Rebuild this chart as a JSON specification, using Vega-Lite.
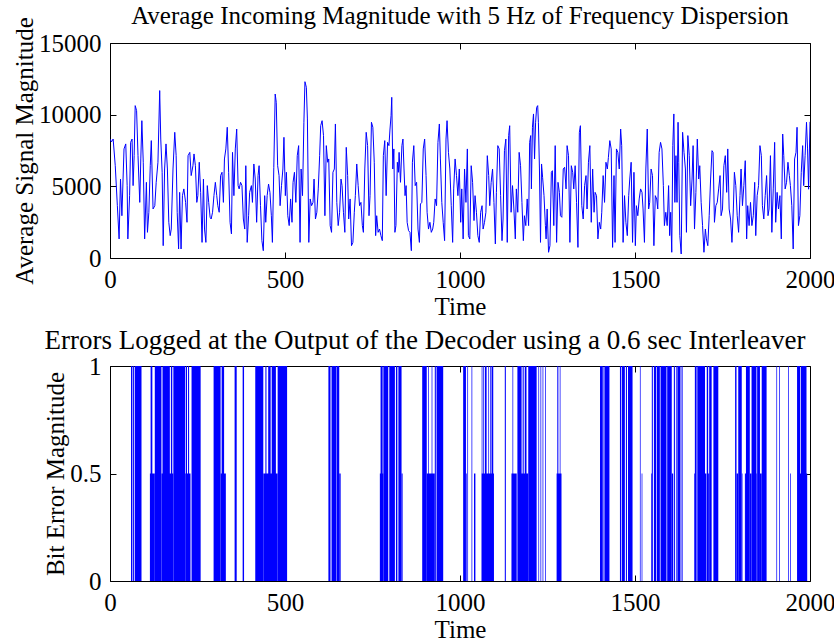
{
  "$schema": "https://vega.github.io/schema/vega-lite/v6.json",
  "background": "white",
  "padding": {"left": 11, "top": 3, "right": 0, "bottom": 0},
  "spacing": 6,
  "config": {
    "font": "Liberation Serif",
    "view": {"stroke": "#000", "strokeWidth": 1},
    "axis": {"labelFont": "Liberation Serif", "titleFont": "Liberation Serif", "labelFontSize": 25, "titleFontSize": 25, "titleFontWeight": "normal", "labelColor": "#000", "titleColor": "#000", "tickColor": "#000", "grid": false, "domain": false, "tickSize": -6, "labelPadding": 15, "labelFlush": false, "labelOverlap": false},
    "title": {"font": "Liberation Serif", "fontSize": 25, "fontWeight": "normal", "color": "#000", "frame": "group"}
  },
  "datasets": {
    "sig": [
{"t":0,"v":8300},{"t":4,"v":8100},{"t":9,"v":8300},{"t":15,"v":6440},{"t":21,"v":3650},{"t":26,"v":1330},{"t":30,"v":5510},{"t":34,"v":2950},{"t":40,"v":7610},{"t":45,"v":7960},{"t":49,"v":5050},{"t":51,"v":1330},{"t":56,"v":4350},{"t":59,"v":8070},{"t":63,"v":8300},{"t":66,"v":5050},{"t":69,"v":7140},{"t":72,"v":10630},{"t":76,"v":10280},{"t":80,"v":7140},{"t":85,"v":3880},{"t":88,"v":6910},{"t":91,"v":9580},{"t":95,"v":6680},{"t":99,"v":1330},{"t":104,"v":5280},{"t":107,"v":1790},{"t":111,"v":3190},{"t":115,"v":6440},{"t":118,"v":8190},{"t":123,"v":3420},{"t":128,"v":3650},{"t":132,"v":5280},{"t":137,"v":6680},{"t":142,"v":11680},{"t":145,"v":8300},{"t":149,"v":5980},{"t":152,"v":860},{"t":156,"v":6210},{"t":160,"v":7960},{"t":164,"v":6210},{"t":168,"v":2490},{"t":172,"v":1560},{"t":175,"v":2020},{"t":180,"v":6210},{"t":185,"v":8770},{"t":189,"v":7140},{"t":192,"v":3190},{"t":196,"v":630},{"t":199,"v":4580},{"t":203,"v":630},{"t":207,"v":4350},{"t":211,"v":4820},{"t":216,"v":3880},{"t":220,"v":2490},{"t":223,"v":7140},{"t":228,"v":7370},{"t":232,"v":5750},{"t":237,"v":6440},{"t":240,"v":7260},{"t":244,"v":6440},{"t":248,"v":3880},{"t":251,"v":4350},{"t":255,"v":6680},{"t":259,"v":4580},{"t":263,"v":1090},{"t":267,"v":5510},{"t":270,"v":2020},{"t":274,"v":1090},{"t":278,"v":5050},{"t":282,"v":3880},{"t":286,"v":2840},{"t":289,"v":2720},{"t":293,"v":3190},{"t":297,"v":4350},{"t":301,"v":5280},{"t":305,"v":4350},{"t":308,"v":3650},{"t":312,"v":3190},{"t":316,"v":5750},{"t":320,"v":5980},{"t":324,"v":3880},{"t":327,"v":6910},{"t":331,"v":7610},{"t":335,"v":9120},{"t":339,"v":5980},{"t":343,"v":2490},{"t":347,"v":1680},{"t":350,"v":7370},{"t":354,"v":4350},{"t":358,"v":7610},{"t":362,"v":9000},{"t":366,"v":5050},{"t":369,"v":4820},{"t":373,"v":5280},{"t":377,"v":5050},{"t":381,"v":2720},{"t":385,"v":2020},{"t":388,"v":6440},{"t":392,"v":1090},{"t":396,"v":2950},
{"t":399,"v":4580},{"t":404,"v":5050},{"t":407,"v":3880},{"t":411,"v":6560},{"t":415,"v":5510},{"t":419,"v":2490},{"t":423,"v":5750},{"t":426,"v":6440},{"t":430,"v":3650},{"t":434,"v":1210},{"t":438,"v":510},{"t":442,"v":4350},{"t":445,"v":2490},{"t":449,"v":4350},{"t":453,"v":5160},{"t":457,"v":4580},{"t":461,"v":2950},{"t":464,"v":1090},{"t":468,"v":6330},{"t":472,"v":11440},{"t":475,"v":10860},{"t":479,"v":6440},{"t":483,"v":5750},{"t":486,"v":3650},{"t":490,"v":5050},{"t":494,"v":6210},{"t":497,"v":8420},{"t":501,"v":4350},{"t":504,"v":5980},{"t":508,"v":2950},{"t":512,"v":2260},{"t":516,"v":4120},{"t":520,"v":2490},{"t":523,"v":5280},{"t":527,"v":5980},{"t":531,"v":3880},{"t":535,"v":7140},{"t":539,"v":7840},{"t":543,"v":1090},{"t":546,"v":6210},{"t":550,"v":4350},{"t":554,"v":9470},{"t":557,"v":12300},{"t":561,"v":11910},{"t":564,"v":9700},{"t":568,"v":1090},{"t":572,"v":4120},{"t":576,"v":3650},{"t":580,"v":3880},{"t":583,"v":5510},{"t":587,"v":2720},{"t":591,"v":3190},{"t":595,"v":4820},{"t":599,"v":7140},{"t":602,"v":9230},{"t":606,"v":9580},{"t":610,"v":8540},{"t":614,"v":2950},{"t":618,"v":7840},{"t":622,"v":6680},{"t":625,"v":6910},{"t":629,"v":2260},{"t":633,"v":1790},{"t":637,"v":5980},{"t":641,"v":6210},{"t":644,"v":9350},{"t":648,"v":3880},{"t":652,"v":2260},{"t":656,"v":3190},{"t":660,"v":5510},{"t":663,"v":5050},{"t":667,"v":3190},{"t":671,"v":1790},{"t":675,"v":7720},{"t":679,"v":5750},{"t":682,"v":2720},{"t":686,"v":4120},{"t":690,"v":860},{"t":694,"v":1090},{"t":698,"v":3190},{"t":701,"v":4350},{"t":705,"v":6560},{"t":709,"v":5050},{"t":713,"v":3650},{"t":717,"v":3880},{"t":721,"v":2260},{"t":724,"v":1790},{"t":728,"v":6210},{"t":732,"v":8770},{"t":736,"v":7840},{"t":740,"v":2950},{"t":743,"v":4350},{"t":747,"v":9470},{"t":751,"v":9120},{"t":755,"v":6680},{"t":759,"v":1560},{"t":762,"v":2950},{"t":766,"v":1790},{"t":770,"v":2020},{"t":774,"v":1560},{"t":778,"v":1210},{"t":781,"v":7140},{"t":785,"v":8190},{"t":789,"v":4350},{"t":793,"v":8070},{"t":797,"v":7840},
{"t":800,"v":9000},{"t":803,"v":9930},{"t":805,"v":11210},{"t":808,"v":6210},{"t":811,"v":7610},{"t":814,"v":1790},{"t":817,"v":2260},{"t":821,"v":6680},{"t":824,"v":5980},{"t":826,"v":7370},{"t":830,"v":5280},{"t":834,"v":7840},{"t":837,"v":8300},{"t":840,"v":6210},{"t":843,"v":4350},{"t":846,"v":5050},{"t":849,"v":2490},{"t":853,"v":1910},{"t":857,"v":1790},{"t":861,"v":510},{"t":864,"v":6680},{"t":868,"v":7840},{"t":872,"v":5050},{"t":876,"v":5280},{"t":880,"v":2020},{"t":884,"v":1090},{"t":887,"v":3770},{"t":891,"v":3880},{"t":895,"v":7610},{"t":899,"v":8300},{"t":903,"v":5750},{"t":906,"v":3190},{"t":910,"v":2020},{"t":914,"v":2490},{"t":918,"v":1790},{"t":922,"v":2020},{"t":925,"v":2490},{"t":929,"v":4120},{"t":933,"v":3650},{"t":937,"v":8070},{"t":941,"v":9350},{"t":944,"v":6910},{"t":948,"v":3880},{"t":952,"v":2490},{"t":956,"v":1210},{"t":960,"v":8300},{"t":963,"v":9580},{"t":967,"v":7370},{"t":971,"v":6210},{"t":975,"v":3650},{"t":979,"v":1090},{"t":982,"v":4820},{"t":986,"v":6910},{"t":990,"v":5750},{"t":994,"v":4350},{"t":998,"v":6210},{"t":1002,"v":2490},{"t":1005,"v":4820},{"t":1009,"v":1330},{"t":1013,"v":6210},{"t":1017,"v":3880},{"t":1021,"v":7610},{"t":1024,"v":1560},{"t":1028,"v":1330},{"t":1032,"v":6440},{"t":1036,"v":5280},{"t":1040,"v":2610},{"t":1043,"v":4350},{"t":1047,"v":3190},{"t":1051,"v":1560},{"t":1055,"v":1090},{"t":1059,"v":3190},{"t":1063,"v":3650},{"t":1066,"v":2020},{"t":1070,"v":2490},{"t":1074,"v":3190},{"t":1078,"v":7140},{"t":1082,"v":5750},{"t":1085,"v":3650},{"t":1089,"v":5280},{"t":1093,"v":6210},{"t":1097,"v":3880},{"t":1101,"v":980},{"t":1104,"v":4580},{"t":1108,"v":7840},{"t":1112,"v":7610},{"t":1116,"v":4350},{"t":1120,"v":1210},{"t":1123,"v":2720},{"t":1127,"v":7490},{"t":1131,"v":8300},{"t":1135,"v":1090},{"t":1139,"v":8540},{"t":1142,"v":9230},{"t":1146,"v":3190},{"t":1150,"v":5050},{"t":1154,"v":3420},{"t":1158,"v":1330},{"t":1161,"v":4820},{"t":1165,"v":3190},{"t":1169,"v":7370},{"t":1173,"v":6440},{"t":1177,"v":3880},{"t":1181,"v":1210},{"t":1184,"v":2950},{"t":1188,"v":2260},{"t":1192,"v":4120},{"t":1196,"v":2260},
{"t":1199,"v":8070},{"t":1202,"v":8540},{"t":1204,"v":4820},{"t":1207,"v":9120},{"t":1210,"v":10050},{"t":1213,"v":6910},{"t":1216,"v":9470},{"t":1219,"v":10510},{"t":1222,"v":10630},{"t":1224,"v":9470},{"t":1227,"v":6210},{"t":1230,"v":1090},{"t":1233,"v":6560},{"t":1236,"v":5630},{"t":1240,"v":4350},{"t":1244,"v":2260},{"t":1246,"v":1330},{"t":1249,"v":3420},{"t":1253,"v":400},{"t":1257,"v":860},{"t":1261,"v":5980},{"t":1264,"v":6090},{"t":1268,"v":2260},{"t":1272,"v":7840},{"t":1276,"v":1090},{"t":1280,"v":5280},{"t":1284,"v":4580},{"t":1287,"v":2950},{"t":1291,"v":2840},{"t":1295,"v":6210},{"t":1299,"v":6330},{"t":1303,"v":4820},{"t":1306,"v":7840},{"t":1310,"v":7140},{"t":1314,"v":1090},{"t":1318,"v":6440},{"t":1322,"v":5980},{"t":1325,"v":4820},{"t":1329,"v":6440},{"t":1333,"v":3880},{"t":1337,"v":740},{"t":1341,"v":8770},{"t":1344,"v":9230},{"t":1348,"v":3650},{"t":1352,"v":2720},{"t":1356,"v":5050},{"t":1360,"v":5750},{"t":1363,"v":3420},{"t":1367,"v":6680},{"t":1371,"v":7840},{"t":1375,"v":2490},{"t":1379,"v":6210},{"t":1383,"v":3190},{"t":1386,"v":4580},{"t":1390,"v":4350},{"t":1394,"v":1330},{"t":1398,"v":2490},{"t":1402,"v":2020},{"t":1405,"v":3190},{"t":1409,"v":5750},{"t":1413,"v":3880},{"t":1417,"v":6680},{"t":1421,"v":6210},{"t":1424,"v":7020},{"t":1428,"v":8190},{"t":1432,"v":7610},{"t":1436,"v":740},{"t":1440,"v":5750},{"t":1443,"v":1090},{"t":1447,"v":7610},{"t":1451,"v":7370},{"t":1455,"v":6210},{"t":1459,"v":9000},{"t":1462,"v":7840},{"t":1466,"v":1090},{"t":1470,"v":4350},{"t":1474,"v":2490},{"t":1478,"v":1560},{"t":1482,"v":4350},{"t":1485,"v":5510},{"t":1489,"v":6680},{"t":1493,"v":1090},{"t":1497,"v":5980},{"t":1501,"v":860},{"t":1504,"v":3650},{"t":1508,"v":2950},{"t":1512,"v":4120},{"t":1516,"v":4820},{"t":1520,"v":4580},{"t":1523,"v":3420},{"t":1527,"v":1090},{"t":1531,"v":6210},{"t":1535,"v":9000},{"t":1539,"v":3420},{"t":1542,"v":3880},{"t":1546,"v":6210},{"t":1550,"v":5750},{"t":1554,"v":860},{"t":1558,"v":4350},{"t":1562,"v":4120},{"t":1565,"v":3420},{"t":1569,"v":7370},{"t":1573,"v":8070},{"t":1577,"v":7610},{"t":1581,"v":5050},{"t":1584,"v":2260},{"t":1588,"v":3190},{"t":1592,"v":2260},{"t":1596,"v":5050},
{"t":1599,"v":1560},{"t":1602,"v":3190},{"t":1605,"v":400},{"t":1608,"v":7840},{"t":1611,"v":10050},{"t":1614,"v":3880},{"t":1617,"v":7140},{"t":1620,"v":3880},{"t":1623,"v":9470},{"t":1625,"v":6680},{"t":1628,"v":1560},{"t":1632,"v":280},{"t":1636,"v":8770},{"t":1640,"v":7370},{"t":1644,"v":6210},{"t":1647,"v":1790},{"t":1651,"v":8540},{"t":1655,"v":7140},{"t":1659,"v":3650},{"t":1663,"v":5510},{"t":1666,"v":7840},{"t":1670,"v":2020},{"t":1674,"v":4580},{"t":1678,"v":8300},{"t":1682,"v":5510},{"t":1685,"v":6440},{"t":1689,"v":3880},{"t":1693,"v":2260},{"t":1697,"v":400},{"t":1701,"v":2020},{"t":1704,"v":1330},{"t":1708,"v":860},{"t":1712,"v":2950},{"t":1716,"v":5510},{"t":1720,"v":7490},{"t":1723,"v":7370},{"t":1727,"v":2490},{"t":1731,"v":3650},{"t":1735,"v":3880},{"t":1739,"v":4820},{"t":1743,"v":5750},{"t":1746,"v":2950},{"t":1750,"v":3420},{"t":1754,"v":6440},{"t":1758,"v":7140},{"t":1762,"v":4580},{"t":1765,"v":7610},{"t":1769,"v":3420},{"t":1773,"v":2720},{"t":1777,"v":1090},{"t":1781,"v":3420},{"t":1784,"v":5980},{"t":1788,"v":5050},{"t":1792,"v":2950},{"t":1796,"v":1790},{"t":1800,"v":4350},{"t":1803,"v":6210},{"t":1807,"v":3650},{"t":1811,"v":5050},{"t":1815,"v":6790},{"t":1819,"v":1330},{"t":1822,"v":3650},{"t":1826,"v":2260},{"t":1830,"v":3880},{"t":1834,"v":2260},{"t":1838,"v":2950},{"t":1842,"v":5280},{"t":1845,"v":1560},{"t":1849,"v":4350},{"t":1853,"v":5050},{"t":1857,"v":7840},{"t":1861,"v":7140},{"t":1864,"v":3650},{"t":1868,"v":2720},{"t":1872,"v":4350},{"t":1876,"v":5750},{"t":1880,"v":2950},{"t":1883,"v":3420},{"t":1887,"v":7140},{"t":1891,"v":1790},{"t":1895,"v":4820},{"t":1899,"v":8070},{"t":1902,"v":2490},{"t":1906,"v":4580},{"t":1910,"v":3420},{"t":1914,"v":4350},{"t":1918,"v":1330},{"t":1922,"v":8650},{"t":1925,"v":7140},{"t":1929,"v":4820},{"t":1933,"v":5280},{"t":1937,"v":6680},{"t":1941,"v":5750},{"t":1944,"v":5050},{"t":1948,"v":3650},{"t":1952,"v":630},{"t":1956,"v":6910},{"t":1960,"v":7370},{"t":1963,"v":9120},{"t":1967,"v":2260},{"t":1971,"v":2950},{"t":1975,"v":5980},{"t":1979,"v":7840},{"t":1982,"v":5050},{"t":1986,"v":7140},{"t":1990,"v":9470},{"t":1993,"v":7610},{"t":1996,"v":4800},{"t":2000,"v":9500}
    ],
    "err": [
{"s":114,"e":128,"h":0.5},{"s":147,"e":181,"h":0.5},{"s":215,"e":230,"h":0.5},{"s":316,"e":331,"h":0.5},{"s":438,"e":479,"h":0.5},{"s":655,"e":659,"h":0.5},{"s":771,"e":781,"h":0.5},{"s":833,"e":836,"h":0.5},{"s":905,"e":928,"h":0.5},{"s":1017,"e":1019,"h":0.5},{"s":1040,"e":1044,"h":0.5},{"s":1062,"e":1097,"h":0.5},{"s":1147,"e":1162,"h":0.5},{"s":1171,"e":1195,"h":0.5},{"s":1276,"e":1290,"h":0.5},{"s":1519,"e":1521,"h":0.5},{"s":1546,"e":1548,"h":0.5},{"s":1605,"e":1609,"h":0.5},{"s":1669,"e":1671,"h":0.5},{"s":1700,"e":1704,"h":0.5},{"s":1709,"e":1712,"h":0.5},{"s":1790,"e":1795,"h":0.5},{"s":1805,"e":1807,"h":0.5},{"s":1814,"e":1817,"h":0.5},{"s":1828,"e":1833,"h":0.5},{"s":1847,"e":1849,"h":0.5},{"s":1857,"e":1862,"h":0.5},{"s":1943,"e":1945,"h":0.5},{"s":1971,"e":1992,"h":0.5},
{"s":60,"e":64,"h":1},{"s":66,"e":69,"h":1},{"s":71,"e":90,"h":1},{"s":116,"e":121,"h":1},{"s":128,"e":147,"h":1},{"s":150,"e":171,"h":1},{"s":174,"e":178,"h":1},{"s":181,"e":215,"h":1},{"s":217,"e":220,"h":1},{"s":223,"e":226,"h":1},{"s":233,"e":259,"h":1},{"s":296,"e":316,"h":1},{"s":319,"e":326,"h":1},{"s":356,"e":362,"h":1},{"s":379,"e":383,"h":1},{"s":415,"e":438,"h":1},{"s":444,"e":447,"h":1},{"s":452,"e":459,"h":1},{"s":462,"e":474,"h":1},{"s":479,"e":506,"h":1},{"s":624,"e":630,"h":1},{"s":633,"e":647,"h":1},{"s":648,"e":655,"h":1},{"s":773,"e":779,"h":1},{"s":781,"e":795,"h":1},{"s":798,"e":814,"h":1},{"s":817,"e":821,"h":1},{"s":824,"e":833,"h":1},{"s":892,"e":905,"h":1},{"s":909,"e":911,"h":1},{"s":919,"e":921,"h":1},{"s":928,"e":931,"h":1},{"s":933,"e":952,"h":1},{"s":1009,"e":1017,"h":1},{"s":1021,"e":1023,"h":1},{"s":1033,"e":1035,"h":1},{"s":1062,"e":1064,"h":1},{"s":1066,"e":1068,"h":1},{"s":1071,"e":1076,"h":1},{"s":1081,"e":1083,"h":1},{"s":1086,"e":1088,"h":1},{"s":1090,"e":1095,"h":1},{"s":1128,"e":1131,"h":1},{"s":1150,"e":1152,"h":1},{"s":1164,"e":1176,"h":1},{"s":1179,"e":1182,"h":1},{"s":1185,"e":1190,"h":1},{"s":1195,"e":1219,"h":1},{"s":1224,"e":1226,"h":1},{"s":1230,"e":1232,"h":1},{"s":1236,"e":1238,"h":1},{"s":1243,"e":1245,"h":1},{"s":1278,"e":1281,"h":1},{"s":1285,"e":1287,"h":1},{"s":1400,"e":1408,"h":1},{"s":1410,"e":1413,"h":1},{"s":1414,"e":1427,"h":1},{"s":1457,"e":1460,"h":1},{"s":1462,"e":1471,"h":1},{"s":1474,"e":1477,"h":1},{"s":1480,"e":1493,"h":1},{"s":1514,"e":1516,"h":1},{"s":1548,"e":1551,"h":1},{"s":1554,"e":1560,"h":1},{"s":1562,"e":1571,"h":1},{"s":1573,"e":1590,"h":1},{"s":1592,"e":1605,"h":1},{"s":1611,"e":1614,"h":1},{"s":1617,"e":1619,"h":1},{"s":1621,"e":1630,"h":1},{"s":1633,"e":1636,"h":1},{"s":1671,"e":1676,"h":1},{"s":1678,"e":1700,"h":1},{"s":1705,"e":1709,"h":1},{"s":1712,"e":1719,"h":1},{"s":1724,"e":1738,"h":1},{"s":1786,"e":1790,"h":1},{"s":1795,"e":1805,"h":1},{"s":1817,"e":1828,"h":1},{"s":1833,"e":1847,"h":1},{"s":1849,"e":1857,"h":1},{"s":1862,"e":1876,"h":1},{"s":1904,"e":1906,"h":1},{"s":1912,"e":1914,"h":1},{"s":1938,"e":1940,"h":1},{"s":1963,"e":1972,"h":1},{"s":1974,"e":1990,"h":1}
    ]
  },
  "vconcat": [
    {
      "width": 700,
      "height": 215,
      "title": {"text": "Average Incoming Magnitude with 5 Hz of Frequency Dispersion", "offset": -12},
      "resolve": {"axis": {"x": "independent", "y": "independent"}},
      "layer": [
        {
          "data": {"name": "sig"},
          "mark": {"type": "line", "color": "#0000ff", "strokeWidth": 1, "clip": true},
          "encoding": {
            "x": {"field": "t", "type": "quantitative", "scale": {"domain": [0, 2000], "nice": false, "zero": false}, "axis": {"orient": "bottom", "values": [0, 500, 1000, 1500, 2000], "title": "Time", "format": "d", "titlePadding": 2}},
            "y": {"field": "v", "type": "quantitative", "scale": {"domain": [0, 15000], "nice": false}, "axis": {"orient": "left", "values": [0, 5000, 10000, 15000], "title": "Average Signal Magnitude", "format": "d", "titlePadding": 1}}
          }
        },
        {
          "data": {"values": [{"t": 0, "v": 0}]},
          "mark": {"type": "point", "opacity": 0},
          "encoding": {
            "x": {"field": "t", "type": "quantitative", "axis": {"orient": "top", "values": [0, 500, 1000, 1500, 2000], "labels": false, "title": null, "labelPadding": 0, "minExtent": 0, "maxExtent": 0}},
            "y": {"field": "v", "type": "quantitative", "axis": {"orient": "right", "values": [0, 5000, 10000, 15000], "labels": false, "title": null, "labelPadding": 0, "minExtent": 0, "maxExtent": 0}}
          }
        }
      ]
    },
    {
      "width": 700,
      "height": 215,
      "title": {"text": "Errors Logged at the Output of the Decoder using a 0.6 sec Interleaver", "dx": -35, "fontSize": 27, "offset": -1},
      "resolve": {"axis": {"x": "independent", "y": "independent"}},
      "layer": [
        {
          "data": {"name": "err"},
          "mark": {"type": "rect", "color": "#0000ff"},
          "encoding": {
            "x": {"field": "s", "type": "quantitative", "scale": {"domain": [0, 2000], "nice": false, "zero": false}, "axis": {"orient": "bottom", "values": [0, 500, 1000, 1500, 2000], "title": "Time", "format": "d", "titlePadding": 2}},
            "x2": {"field": "e"},
            "y": {"field": "h", "type": "quantitative", "scale": {"domain": [0, 1], "nice": false}, "axis": {"orient": "left", "values": [0, 0.5, 1], "title": "Bit Error Magnitude", "format": ".1~f", "titlePadding": 1}},
            "y2": {"datum": 0}
          }
        },
        {
          "data": {"values": [{"s": 0, "h": 0}]},
          "mark": {"type": "point", "opacity": 0},
          "encoding": {
            "x": {"field": "s", "type": "quantitative", "axis": {"orient": "top", "values": [0, 500, 1000, 1500, 2000], "labels": false, "title": null, "labelPadding": 0, "minExtent": 0, "maxExtent": 0}},
            "y": {"field": "h", "type": "quantitative", "axis": {"orient": "right", "values": [0, 0.5, 1], "labels": false, "title": null, "labelPadding": 0, "minExtent": 0, "maxExtent": 0}}
          }
        }
      ]
    }
  ]
}
